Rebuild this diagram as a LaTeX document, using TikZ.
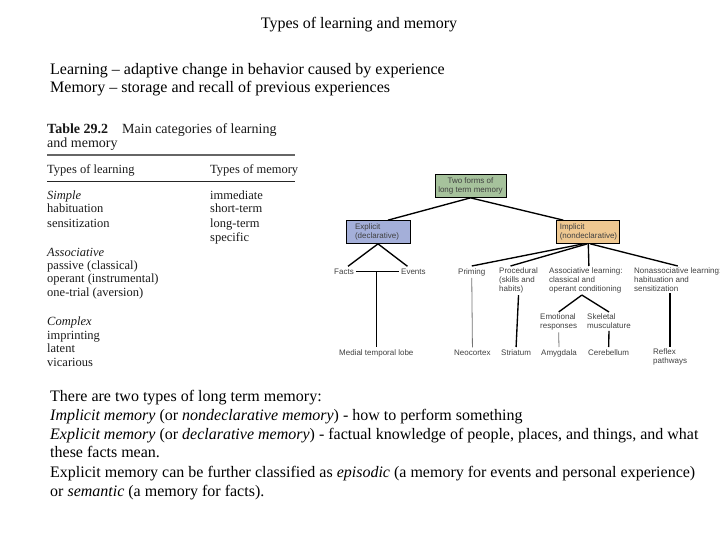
\documentclass[tikz,border=0pt]{standalone}
\usepackage{fontspec}
\setmainfont{Liberation Serif}
\newfontfamily\treefont{Liberation Sans}
\definecolor{rootgreen}{HTML}{A6C29C}
\definecolor{explblue}{HTML}{A4AFD9}
\definecolor{impltan}{HTML}{EFC891}
\begin{document}
\begin{tikzpicture}[x=1pt,y=-1pt,
  body/.style={font=\fontsize{16}{19}\selectfont, inner sep=0pt, anchor=base west},
  tab/.style={font=\fontsize{12.5}{14}\selectfont, inner sep=0pt, anchor=base west, text=black!90},
  tabhead/.style={font=\fontsize{14}{16}\selectfont, inner sep=0pt, anchor=base west, text=black!90},
  lab/.style={font=\treefont\fontsize{8}{8.6}\selectfont, text=black!75, inner sep=2pt, align=left},
  boxnode/.style={draw, line width=0.7pt, font=\treefont\fontsize{8}{9}\selectfont, text=black!75, minimum height=23pt},
  edgeline/.style={line width=1.35pt},
  thinline/.style={line width=0.8pt, black!55}]
\useasboundingbox (0,0) rectangle (720,540);

% ---- header texts
\node[body, anchor=base] (title) at (359,29) {Types of learning and memory};
\node[body] (learn) at (50,75) {Learning -- adaptive change in behavior caused by experience};
\node[body] (mem) at (50,93) {Memory -- storage and recall of previous experiences};

% ---- table
\node[tabhead, font=\bfseries\fontsize{14}{16}\selectfont] (tt) at (47,134) {Table 29.2};
\node[tabhead] (tt2) at (122,134) {Main categories of learning};
\node[tabhead] (tt3) at (47,148) {and memory};
\draw[black!60, line width=1.6pt] (47,155) -- (295,155);
\node[tab] (h1) at (47,174) {Types of learning};
\node[tab] (h2) at (210,174) {Types of memory};
\draw[black!85, line width=0.8pt] (47,181) -- (295,181);
\node[tab, font=\itshape\fontsize{12.5}{14}\selectfont] (r1) at (47,200) {Simple};
\node[tab] (r2) at (47,213) {habituation};
\node[tab] (r3) at (47,227) {sensitization};
\node[tab] (m1) at (210,200) {immediate};
\node[tab] (m2) at (210,213) {short-term};
\node[tab] (m3) at (210,227) {long-term};
\node[tab] (m4) at (210,241) {specific};
\node[tab, font=\itshape\fontsize{12.5}{14}\selectfont] (r4) at (47,256) {Associative};
\node[tab] (r5) at (47,269) {passive (classical)};
\node[tab] (r6) at (47,282) {operant (instrumental)};
\node[tab] (r7) at (47,296) {one-trial (aversion)};
\node[tab, font=\itshape\fontsize{12.5}{14}\selectfont] (r8) at (47,325) {Complex};
\node[tab] (r9) at (47,339) {imprinting};
\node[tab] (r10) at (47,352) {latent};
\node[tab] (r11) at (47,366) {vicarious};

% ---- tree boxes
\node[boxnode, fill=rootgreen, minimum width=71pt, align=center, inner sep=1pt] (root) at (470.5,186) {Two forms of\\long term memory};
\node[boxnode, fill=explblue, text width=46pt, inner xsep=9pt, inner ysep=1pt, align=left] (expl) at (378,232) {Explicit\\(declarative)};
\node[boxnode, fill=impltan, text width=57pt, inner xsep=3pt, inner ysep=1pt, align=left] (impl) at (588.3,232) {Implicit\\(nondeclarative)};

% ---- tree labels
\node[lab, anchor=base west] (facts) at (332,274) {Facts};
\node[lab, anchor=base west] (events) at (399,274) {Events};
\node[lab, anchor=base west] (medial) at (337,355) {Medial temporal lobe};
\node[lab, anchor=base west] (prim) at (456,274) {Priming};
\node[lab, anchor=base west] (neo) at (452,355) {Neocortex};
\node[lab, anchor=base west] (stri) at (499,355) {Striatum};
\node[lab, anchor=base west] (amyg) at (539,355) {Amygdala};
\node[lab, anchor=base west] (cereb) at (586,355) {Cerebellum};
\node[lab, anchor=north west] (proc) at (497,266) {Procedural\\(skills and\\habits)};
\node[lab, anchor=north west] (assoc) at (547,266) {Associative learning:\\classical and\\operant conditioning};
\node[lab, anchor=north west] (nonassoc) at (632,266) {Nonassociative learning:\\habituation and\\sensitization};
\node[lab, anchor=north west] (emo) at (538,312) {Emotional\\responses};
\node[lab, anchor=north west] (skel) at (585,312) {Skeletal\\musculature};
\node[lab, anchor=north west] (reflex) at (651,347) {Reflex\\pathways};

% ---- tree connectors
\draw[edgeline] (root.south) -- ([xshift=10pt]expl.north);
\draw[edgeline] (root.south) -- ([xshift=-25pt]impl.north);
\draw[edgeline] (expl.south) -- ([xshift=4pt]facts.north);
\draw[edgeline] (expl.south) -- ([xshift=-6pt]events.north);
\draw[edgeline] (facts.east) -- (events.west);
\draw[edgeline] (medial.north |- facts.east) -- (medial.north);
\draw[edgeline] ([xshift=-5pt]impl.south) -- (prim.north);
\draw[edgeline] ([xshift=-1pt]impl.south) -- ([xshift=-8pt]proc.north);
\draw[edgeline] (impl.south) -- ([xshift=3pt]assoc.north);
\draw[edgeline] ([xshift=2pt]impl.south) -- (nonassoc.north);
\draw[thinline] (prim.south) -- (neo.north);
\draw[edgeline] (proc.south) -- (stri.north);
\draw[edgeline] ([xshift=-4pt]assoc.south) -- (emo.north);
\draw[edgeline] ([xshift=-4pt]assoc.south) -- (skel.north);
\draw[thinline] (emo.south) -- (amyg.north);
\draw[edgeline] (skel.south) -- (cereb.north);
\draw[edgeline] (nonassoc.south -| reflex.north) -- (reflex.north);

% ---- bottom texts
\node[body] (b1) at (50,401) {There are two types of long term memory:};
\node[body] (b2) at (50,420) {\textit{Implicit memory} (or \textit{nondeclarative memory}) - how to perform something};
\node[body] (b3) at (50,439) {\textit{Explicit memory} (or \textit{declarative memory}) - factual knowledge of people, places, and things, and what};
\node[body] (b4) at (50,457) {these facts mean.};
\node[body] (b5) at (50,477) {Explicit memory can be further classified as \textit{episodic} (a memory for events and personal experience)};
\node[body] (b6) at (50,496) {or \textit{semantic} (a memory for facts).};
\end{tikzpicture}
\end{document}
